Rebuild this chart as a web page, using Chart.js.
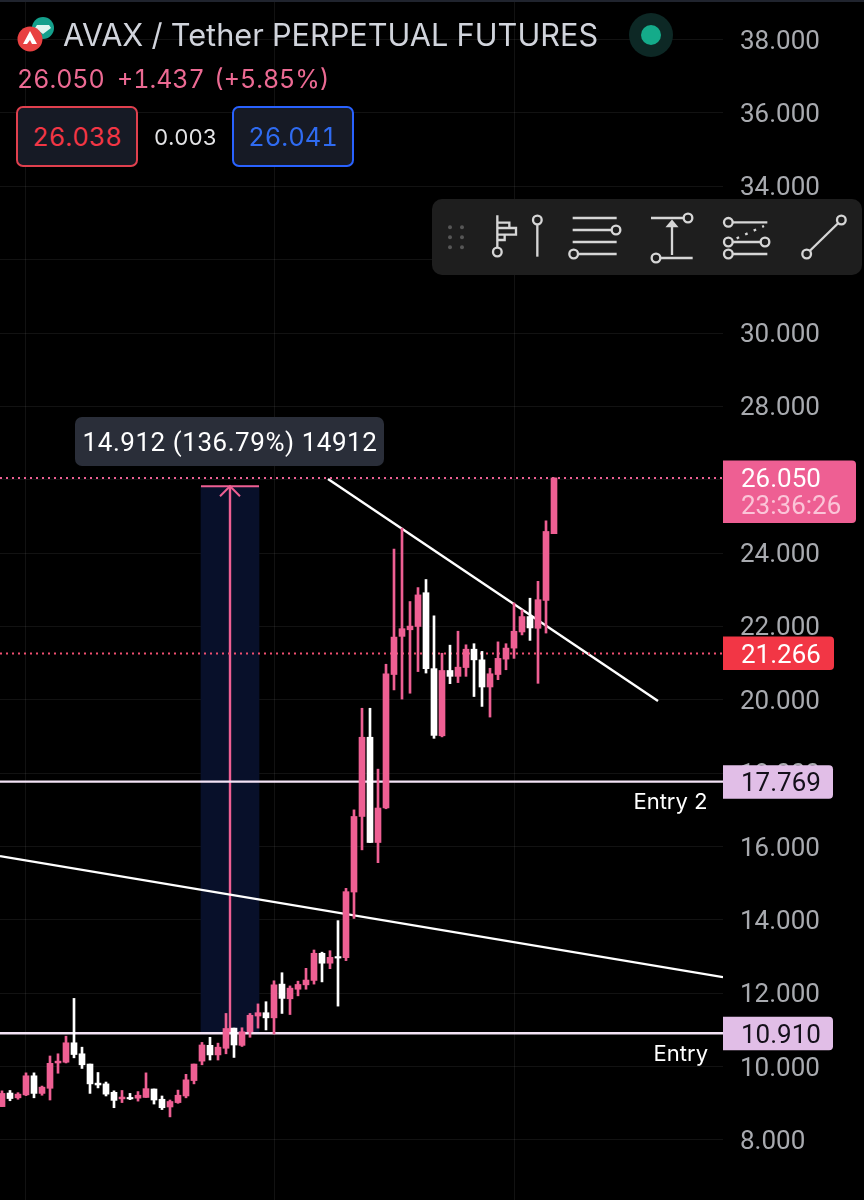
<!DOCTYPE html>
<html>
<head>
<meta charset="utf-8">
<title>AVAX / Tether PERPETUAL FUTURES</title>
<script src="https://cdn.jsdelivr.net/npm/chart.js@4"></script>
<style>
  html, body { margin: 0; background: #000; }
  #wrap { position: relative; width: 864px; height: 1200px; overflow: hidden; font-family: Inter, sans-serif; font-variant-numeric: tabular-nums; }
  #wrap canvas { position: absolute; left: 0; top: 0; }
  .txt { position: absolute; white-space: pre; line-height: 1; }
  .box { position: absolute; box-sizing: border-box; border: 2px solid; border-radius: 7px; background: #161a25;
         font-size: 25.5px; display: flex; align-items: center; justify-content: center; }
  #topline { position: absolute; left: 0; top: 0; width: 864px; height: 2px; background: #20242e; }
  #logo, #status, #toolbar { position: absolute; }
</style>
</head>
<body>
<div id="wrap">
  <canvas id="chart" width="864" height="1200"></canvas>
  <div id="topline"></div>

  <svg id="logo" style="left:16px;top:14px" width="44" height="40" viewBox="0 0 44 40">
    <circle cx="27" cy="14" r="11" fill="#14a08c"/>
    <path d="M21 11h12l2 3-8 6-8-6z" fill="#dff5f0"/>
    <circle cx="14" cy="25" r="12.5" fill="#e84142"/>
    <path d="M14 17l7 13h-5l-2-4-3 4H7z" fill="#fff"/>
  </svg>
  <div class="txt" style="left:63px;top:20px;font-size:30.7px;color:#d1d4dc">AVAX / Tether PERPETUAL FUTURES</div>
  <svg id="status" style="left:629px;top:13px" width="44" height="44">
    <circle cx="22" cy="22" r="22" fill="#0d2825"/>
    <circle cx="22" cy="22" r="10" fill="#14ab8a"/>
  </svg>

  <div class="txt" style="left:17px;top:67px;font-size:25px;color:#ec6a93">26.050</div>
  <div class="txt" style="left:117px;top:67px;font-size:25px;color:#ec6a93">+1.437</div>
  <div class="txt" style="left:214px;top:67px;font-size:25px;color:#ec6a93">(+5.85%)</div>

  <div class="box" style="left:16px;top:106px;width:122px;height:61px;border-color:#e0404e;color:#f23645">26.038</div>
  <div class="txt" style="left:154px;top:126px;font-size:22px;color:#e4e4e6">0.003</div>
  <div class="box" style="left:232px;top:106px;width:122px;height:61px;border-color:#2962ff;color:#2f6bf0">26.041</div>

  <svg id="toolbar" style="left:430px;top:190px" width="434" height="90" viewBox="0 0 1302 270"
       fill="none" stroke="#d6d6d6" stroke-width="7">
    <rect x="6" y="27" width="1290" height="228" rx="30" fill="#1e1e1e" stroke="none"/>
    <g fill="#565656" stroke="none">
      <circle cx="60" cy="112" r="6"/><circle cx="96" cy="112" r="6"/>
      <circle cx="60" cy="142" r="6"/><circle cx="96" cy="142" r="6"/>
      <circle cx="60" cy="172" r="6"/><circle cx="96" cy="172" r="6"/>
    </g>
    <path d="M202 76V173M202 98H238V114M202 114H258V134H202M202 134H224V150H202"/>
    <circle cx="202" cy="186" r="13"/>
    <path d="M322 103V200"/><circle cx="322" cy="90" r="13"/>
    <path d="M428 84H560M428 120H545M428 156H560M444 192H560"/>
    <circle cx="558" cy="120" r="13"/><circle cx="431" cy="192" r="13"/>
    <path d="M663 84H761M691 204H788M726 195V106"/>
    <path d="M714 108L726 94L738 108Z" fill="#d6d6d6"/>
    <circle cx="774" cy="84" r="13"/><circle cx="678" cy="204" r="13"/>
    <path d="M908 97H1012M908 156H992M908 192H1012"/>
    <path d="M920 145L1002 108" stroke-dasharray="8 20"/>
    <circle cx="895" cy="97" r="13"/><circle cx="895" cy="156" r="13"/>
    <circle cx="1005" cy="156" r="13"/><circle cx="895" cy="192" r="13"/>
    <path d="M1139 183L1225 99"/>
    <circle cx="1234" cy="90" r="13"/><circle cx="1130" cy="192" r="13"/>
  </svg>
</div>

<script>
// Candles, oldest first. Pink when close >= open, white otherwise
const opens = [8.91,9.28,9.15,9.23,9.75,9.27,9.41,10.10,10.12,10.65,10.35,10.07,9.55,9.53,9.30,9.12,9.16,9.14,9.16,9.39,
  9.11,8.90,9.02,9.20,9.62,10.15,10.58,10.32,10.50,11.05,10.58,10.95,11.38,11.47,11.33,12.25,11.85,12.11,12.23,12.35,
  13.09,12.82,13.00,12.97,14.76,16.82,18.98,16.11,17.05,20.69,21.73,21.91,22.00,22.92,20.85,19.02,20.80,20.64,20.88,21.38,
  21.09,20.35,20.69,21.11,21.41,21.85,22.27,21.95,22.71,24.53];
const highs = [9.34,9.35,9.29,9.83,9.83,9.47,10.29,10.35,10.83,11.86,10.53,10.07,9.84,9.58,9.34,9.35,9.27,9.32,9.83,9.39,
  9.20,9.09,9.36,9.79,10.07,10.66,10.80,10.64,11.45,11.05,11.06,11.45,11.71,11.77,12.34,12.56,12.20,12.33,12.68,13.18,
  13.12,13.16,13.98,14.86,17.00,19.77,19.77,18.11,20.97,24.11,24.68,22.68,23.06,23.28,22.29,21.27,21.49,21.87,21.50,21.53,
  21.32,20.86,21.58,21.53,22.64,22.45,22.77,23.23,24.88,26.05];
const lows = [8.91,9.07,9.11,9.21,9.15,9.22,9.09,9.82,10.10,10.24,9.95,9.27,9.42,9.20,8.88,9.02,9.10,9.06,9.16,8.98,
  8.83,8.63,9.00,9.15,9.53,10.05,10.18,10.18,10.35,10.25,10.55,10.80,11.05,11.00,10.89,11.45,11.42,11.93,12.11,12.25,
  12.31,12.67,11.65,12.89,14.04,15.91,16.11,15.56,17.03,20.27,20.02,20.18,20.77,20.73,18.95,18.99,20.44,20.47,20.64,20.09,
  19.82,19.53,20.55,20.82,21.13,21.77,21.62,20.45,21.82,24.53];
const closes = [9.27,9.13,9.25,9.75,9.27,9.44,10.09,10.15,10.65,10.33,10.05,9.53,9.50,9.25,9.08,9.17,9.12,9.22,9.40,9.09,
  8.88,9.05,9.22,9.64,10.07,10.59,10.32,10.53,11.04,10.59,10.95,11.40,11.47,11.33,12.23,11.86,12.14,12.24,12.36,13.09,
  12.82,12.98,12.96,14.77,16.82,18.98,16.11,17.05,20.71,21.71,21.94,22.01,22.86,20.85,19.03,20.80,20.64,20.89,21.38,21.09,
  20.35,20.71,21.13,21.41,21.87,22.27,21.96,22.73,24.59,26.05];

// Price levels and drawn tools, in bar index / price units
const lastPrice = 26.05;
const markPrice = 21.266;
const entry2 = 17.769;
const entry1 = 10.91;
const measureTop = 25.822;
const measureBar = 28.5;
const upperTrend = [{ x: 40.75, y: 26.02 }, { x: 82, y: 19.97 }];
const lowerTrend = [{ x: -0.25, y: 15.74 }, { x: 90.125, y: 12.44 }];
const gridBars = [3, 34, 64];

const PINK = '#ee5f93';
const LILAC = '#e1bee7';
const NUM_FONT = '26px Roboto';
const xMin = -0.25, xMax = 90.125;
const yMin = 6.364, yMax = 39.079;

const barIdx = opens.map((_, i) => i);
const candleColor = ctx => closes[ctx.dataIndex] >= opens[ctx.dataIndex] ? PINK : '#ffffff';

function hLine(price, color, width, dash) {
  return {
    type: 'line',
    data: [{ x: xMin, y: price }, { x: xMax, y: price }],
    borderColor: color, borderWidth: width, borderDash: dash || [],
    pointRadius: 0, order: 3
  };
}
function segLine(points, color, width) {
  return { type: 'line', data: points, borderColor: color, borderWidth: width, pointRadius: 0, order: 3 };
}

// Price tags on the axis, the measure tooltip and the line captions
const overlay = {
  id: 'overlay',
  afterDraw(chart) {
    const c = chart.ctx, y = chart.scales.y;
    const tag = (price, above, below, width, bg, color, label) => {
      const py = y.getPixelForValue(price);
      c.fillStyle = bg;
      c.beginPath();
      c.roundRect(723, py - above, width, above + below, [0, 4, 4, 0]);
      c.fill();
      c.fillStyle = color;
      c.font = NUM_FONT;
      c.textAlign = 'left';
      c.textBaseline = 'middle';
      c.fillText(label, 741, py + 3);
    };
    tag(entry2, 16.5, 17, 110, LILAC, '#14101a', entry2.toFixed(3));
    tag(entry1, 16.5, 17, 110, LILAC, '#14101a', entry1.toFixed(3));
    tag(markPrice, 17, 16.5, 111, '#f23645', '#ffffff', markPrice.toFixed(3));
    tag(lastPrice, 17.5, 45, 133, PINK, '#ffffff', lastPrice.toFixed(3));
    c.fillStyle = '#fbc5d8';
    c.fillText('23:36:26', 741, y.getPixelForValue(lastPrice) + 30);

    c.fillStyle = '#ffffff';
    c.font = '22px Inter';
    c.textAlign = 'right';
    c.fillText('Entry 2', 708, y.getPixelForValue(entry2) + 21);
    c.fillText('Entry', 708, y.getPixelForValue(entry1) + 21);

    c.fillStyle = '#2a2e39';
    c.beginPath();
    c.roundRect(75, 417, 309, 49, 7);
    c.fill();
    c.fillStyle = '#ffffff';
    c.font = NUM_FONT;
    c.letterSpacing = '0.55px';
    c.textAlign = 'center';
    c.fillText('14.912 (136.79%) 14912', 230, 444);
    c.letterSpacing = '0px';
  }
};

new Chart(document.getElementById('chart'), {
  data: {
    datasets: [
      {
        type: 'bar',
        data: barIdx.map(i => ({ x: i, y: [opens[i], closes[i]] })),
        backgroundColor: candleColor,
        barThickness: 6, grouped: false, order: 1
      },
      {
        type: 'bar',
        data: barIdx.map(i => ({ x: i, y: [lows[i], highs[i]] })),
        backgroundColor: candleColor,
        barThickness: 2, grouped: false, order: 2
      },
      hLine(lastPrice, PINK, 2, [2, 4]),
      hLine(markPrice, '#ee4f70', 2, [2, 4]),
      hLine(entry2, '#f3e3f6', 2.4),
      hLine(entry1, '#f3e3f6', 2.4),
      segLine(upperTrend, '#ffffff', 2.4),
      segLine(lowerTrend, '#ffffff', 2.4),
      // measure tool: arrow shaft, cap and head
      segLine([{ x: measureBar, y: entry1 }, { x: measureBar, y: measureTop }], PINK, 2.4),
      segLine([{ x: 24.875, y: measureTop }, { x: 32.125, y: measureTop }], PINK, 2),
      segLine([{ x: 27.25, y: 25.55 }, { x: measureBar, y: measureTop }, { x: 29.75, y: 25.55 }], PINK, 2),
      {
        type: 'bar',
        data: [{ x: measureBar, y: [entry1, measureTop] }],
        backgroundColor: '#08102a',
        barThickness: 58, grouped: false, order: 4
      }
    ]
  },
  options: {
    responsive: false,
    animation: false,
    layout: { padding: 0 },
    plugins: { legend: { display: false }, tooltip: { enabled: false } },
    scales: {
      x: {
        type: 'linear',
        offset: false,
        min: xMin,
        max: xMax,
        afterBuildTicks: s => { s.ticks = gridBars.map(value => ({ value })); },
        afterFit: s => { s.height = 0; s.paddingLeft = 0; s.paddingRight = 0; },
        ticks: { display: false },
        border: { display: false },
        grid: { color: 'rgba(255,255,255,0.07)', drawTicks: false, offset: false }
      },
      y: {
        position: 'right',
        min: yMin,
        max: yMax,
        // the axis must not reserve room above and below for its labels
        afterFit: s => { s.width = 141; s.paddingTop = 0; s.paddingBottom = 0; },
        ticks: {
          stepSize: 2,
          includeBounds: false,
          padding: 17,
          labelOffset: 2.5,
          color: '#a8aaaf',
          font: { family: 'Roboto', size: 26 },
          callback: v => v.toFixed(3)
        },
        border: { display: false },
        grid: { color: 'rgba(255,255,255,0.07)', drawTicks: false }
      }
    }
  },
  plugins: [overlay]
});
</script>
</body>
</html>
